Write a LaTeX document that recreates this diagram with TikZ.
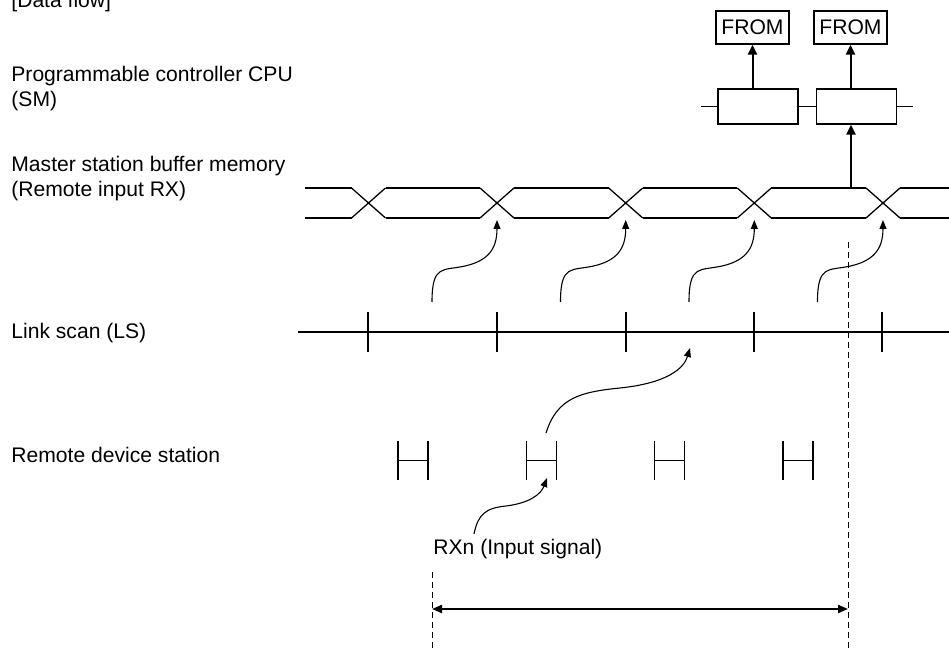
\documentclass[tikz,border=0pt]{standalone}
\usepackage{fontspec}
\setmainfont{Liberation Sans}
\usetikzlibrary{
	arrows.meta,
	positioning,
	calc
}

\begin{document}
\begin{tikzpicture}[
			x=0.5pt, y=-0.5pt,
			font=\fontsize{10.55}{12.5}\selectfont,
			rotulo/.style={anchor=base west, align=left, inner sep=0pt},
			fromcaixa/.style={
					draw,
					line width=0.6pt,
					minimum width=36.5pt,
					minimum height=16.5pt,
					inner sep=0pt
				},
			smcaixa/.style={
					draw,
					line width=0.6pt,
					minimum width=40pt,
					minimum height=17.5pt,
					inner sep=0pt
				},
			barra/.style={line width=0.65pt},
			escala/.style={line width=0.75pt},
			seta/.style={line width=1pt, -{Triangle[length=5pt,width=4.5pt]}},
			onda/.style={line width=0.55pt, -{Triangle[length=4.5pt,width=3.5pt]}},
			tracejado/.style={line width=0.5pt, dash pattern=on 2.8pt off 2.2pt}
		]
		\useasboundingbox (0,0) rectangle (949,652);

		% rotulos
		\node[rotulo] (titulo) at (11,7.5) {[Data flow]};
		\node[rotulo] (lcpu) at (11,107) {Programmable controller CPU\\(SM)};
		\node[rotulo] (lbuf) at (11,197) {Master station buffer memory\\(Remote input RX)};
		\node[rotulo] (lls) at (11,339) {Link scan (LS)};
		\node[rotulo] (lrem) at (11,463) {Remote device station};

		% CPU
		\node[fromcaixa] (f1) at (752.5,27.5) {FROM};
		\node[fromcaixa] (f2) at (850.5,27.5) {FROM};
		\node[smcaixa] (r1) at (758,106.5) {};
		\node[smcaixa] (r2) at (856.5,106.5) {};
		\draw[barra] (701,106.5) -- (r1.west) (r1.east) -- (r2.west) (r2.east) -- (913,106.5);
		\draw[seta] (r1.north -| f1) -- (f1.south);
		\draw[seta] (r2.north -| f2) -- (f2.south);

		% buffer
		\foreach \i/\c in {0/368.5,1/497,2/625.7,3/754.3,4/883} {
				\draw[barra] (\c-17,188) -- (\c+17,218) (\c-17,218) -- (\c+17,188);
				\coordinate (x\i) at (\c,220);
			}
		\foreach \a/\b in {305/351.5,385.5/480,514/608.7,642.7/737.3,771.3/866,900/949}
		\draw[barra] (\a,188) -- (\b,188) (\a,218) -- (\b,218);
		\coordinate (bt) at (851,188);
		\draw[seta] (bt) -- (bt |- r2.south);

		% link scan
		\draw[escala] (298,332) -- (949,332);
		\foreach \t in {368,497,626,754,882}
		\draw[escala] (\t,312) -- (\t,352);
		\foreach \i/\s [evaluate=\i as \j using int(\i+1)] in {0/432,1/560.5,2/689,3/817.5}
		\draw[onda] (\s,302) .. controls +(0,-38) and +(-22,5) .. ++(33,-36)
		.. controls +(22,-5) and +(0,30) .. (x\j);

		% remote device station
		\foreach \h in {398,526.3,654.7,783}
		\draw[escala] (\h,441) -- (\h,480) (\h,460.5) -- (\h+30,460.5) (\h+30,441) -- (\h+30,480);
		\coordinate (h1) at (546,433);
		\coordinate (lsp) at (690,348);
		\draw[onda] (h1) .. controls (557,398) and (580,392) .. (620,388)
		.. controls (668,383) and (684,368) .. (lsp);

		% RXn
		\node[rotulo] (rxn) at (433,554) {RXn (Input signal)};
		\coordinate (rxs) at (474,534);
		\coordinate (rxz) at (547,478);
		\draw[onda] (rxs) .. controls (478,514) and (486,508) .. (506,506)
		.. controls (530,503) and (541,494) .. (rxz);

		% intervalo
		\coordinate (dl) at (432,572);
		\coordinate (dr) at (848,242);
		\draw[tracejado] (dl) -- (432,652);
		\draw[tracejado] (dr) -- (848,652);
		\coordinate (pa) at (432,609);
		\coordinate (pb) at (848,609);
		\draw[line width=1pt, {Triangle[length=5pt,width=4pt]}-{Triangle[length=5pt,width=4pt]}] (pa) -- (pb);
	\end{tikzpicture}
\end{document}
